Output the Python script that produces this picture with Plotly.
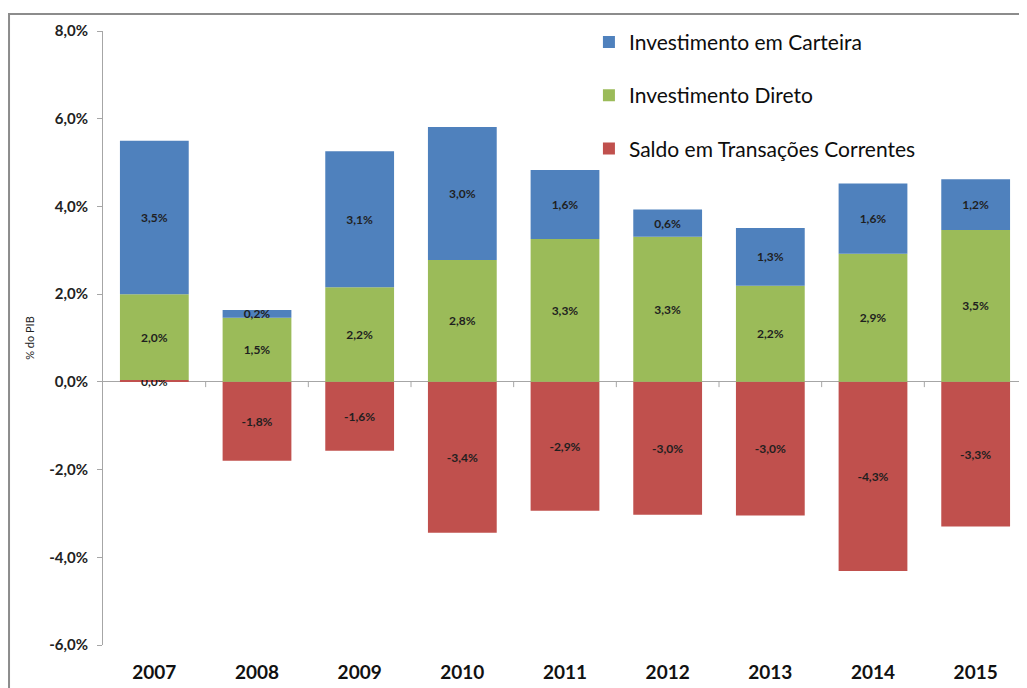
import plotly.graph_objects as go

years = ["2007", "2008", "2009", "2010", "2011", "2012", "2013", "2014", "2015"]
saldo = [0.04, -1.80, -1.57, -3.44, -2.94, -3.03, -3.05, -4.31, -3.30]
direto = [1.96, 1.46, 2.16, 2.78, 3.26, 3.31, 2.19, 2.92, 3.46]
carteira = [3.50, 0.18, 3.10, 3.03, 1.57, 0.62, 1.32, 1.60, 1.16]
yticks = [-6, -4, -2, 0, 2, 4, 6, 8]


def pct(v):
    return f"{v:.1f}%".replace(".", ",")


FONT = "Lato"
label_font = dict(family=FONT, size=12, color="#1f1f1f", weight="bold")

fig = go.Figure()
series = [
    ("Saldo em Transações Correntes", saldo, "#C0504D", 3),
    ("Investimento Direto", direto, "#9BBB59", 2),
    ("Investimento em Carteira", carteira, "#4F81BD", 1),
]
for name, vals, color, rank in series:
    fig.add_trace(go.Bar(
        x=years, y=vals, name=name,
        marker=dict(color=color, line=dict(width=0)),
        text=[pct(v) for v in vals], textposition="inside",
        insidetextanchor="middle", constraintext="none",
        textfont=label_font, cliponaxis=False,
        legendgroup=name, legendrank=rank,
    ))

# small tick marks on the zero line between categories
for i in range(len(years) - 1):
    fig.add_shape(type="line", xref="x", yref="y",
                  x0=i + 0.5, x1=i + 0.5, y0=0, y1=-0.12,
                  line=dict(color="#a6a6a6", width=1))

# outer chart frame
fig.add_shape(type="rect", xref="paper", yref="paper",
              x0=-0.1017, x1=1.2, y0=-0.3, y1=1.0277,
              line=dict(color="#8c8c8c", width=2), layer="below")

fig.update_layout(
    width=1019, height=680,
    barmode="relative", bargap=0.33,
    separators=",.",
    paper_bgcolor="white", plot_bgcolor="white",
    margin=dict(l=95, r=0, t=23, b=43),
    font=dict(family=FONT, color="#1f1f1f"),
    showlegend=True,
    legend=dict(x=0.5259, xanchor="left", y=1.015, yanchor="top",
                font=dict(family=FONT, size=21, color="#0d0d0d"),
                tracegroupgap=23, bgcolor="rgba(0,0,0,0)",
                itemwidth=30),
    xaxis=dict(showline=False, ticks="", showgrid=False,
               ticklabelstandoff=14,
               tickfont=dict(family=FONT, size=19, color="#111111", weight="bold")),
    yaxis=dict(range=[-6, 8], tickvals=yticks, ticktext=[pct(v) for v in yticks],
               showgrid=False, showline=True, linecolor="#a6a6a6", linewidth=1,
               ticks="outside", ticklen=5, tickcolor="#a6a6a6",
               ticklabelstandoff=6,
               zeroline=True, zerolinecolor="#a6a6a6", zerolinewidth=1,
               tickfont=dict(family=FONT, size=15, color="#222222", weight="bold"),
               title=dict(text="% do PIB", standoff=12,
                          font=dict(family=FONT, size=11, color="#222222"))),
)

fig.write_html("out.html")
